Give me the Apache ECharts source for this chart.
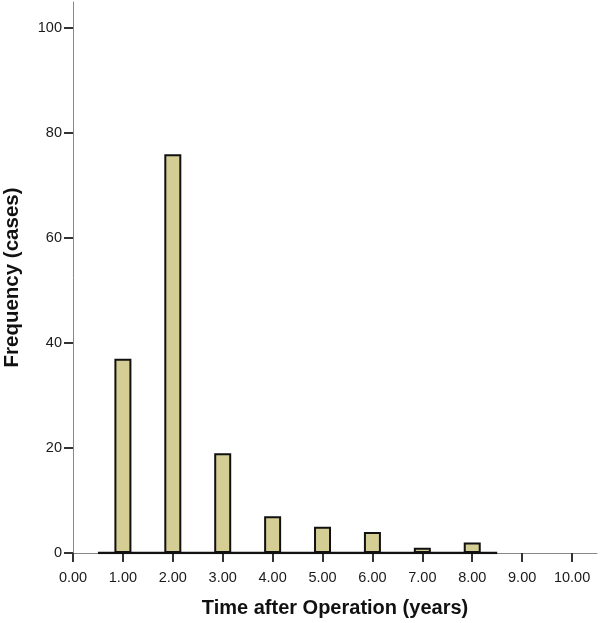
<!DOCTYPE html>
<html><head><meta charset="utf-8">
<script src="https://cdn.jsdelivr.net/npm/echarts@6/dist/echarts.min.js"></script>
<style>html,body{margin:0;padding:0;background:#fff}#c{width:600px;height:623px}</style>
</head><body><div id="c"></div>
<script>
const categories = [1, 2, 3, 4, 5, 6, 7, 8];
const frequency = [37, 76, 19, 7, 5, 4, 1, 2];
const xTicks = [0,1,2,3,4,5,6,7,8,9,10];
const yTicks = [0,20,40,60,80,100];
const histRange = [0.5, 8.5];

const chart = echarts.init(document.getElementById('c'));
const font = 'Liberation Sans, Arial, sans-serif';
chart.setOption({
  animation: false,
  grid: {left: 73, right: 3, top: 2, bottom: 70, outerBoundsMode: 'none', containLabel: false},
  xAxis: {
    type: 'value', min: 0, max: 10.5, interval: 1,
    name: 'Time after Operation (years)', nameLocation: 'middle', nameGap: 45,
    nameTextStyle: {fontFamily: font, fontSize: 20, fontWeight: 'bold', color: '#111'},
    axisLine: {lineStyle: {color: '#888', width: 1}},
    axisTick: {show: true, length: 9, lineStyle: {color: '#333', width: 2}, customValues: xTicks},
    axisLabel: {fontFamily: font, fontSize: 14.5, color: '#1a1a1a', margin: 17, customValues: xTicks,
      formatter: v => v.toFixed(2)},
    splitLine: {show: false}
  },
  yAxis: {
    type: 'value', min: 0, max: 105, interval: 20,
    name: 'Frequency (cases)', nameLocation: 'middle', nameGap: 50,
    nameTextStyle: {fontFamily: font, fontSize: 20.5, fontWeight: 'bold', color: '#111'},
    axisLine: {show: true, lineStyle: {color: '#888', width: 1}},
    axisTick: {show: true, length: 9, lineStyle: {color: '#333', width: 2}, customValues: yTicks},
    axisLabel: {fontFamily: font, fontSize: 14.5, color: '#1a1a1a', margin: 11, customValues: yTicks},
    splitLine: {show: false}
  },
  series: [
    {
      type: 'line', data: histRange.map(x => [x, 0]), symbol: 'none', z: 3,
      lineStyle: {color: '#111', width: 2.5}
    },
    {
      type: 'bar', barWidth: 17, z: 4,
      data: categories.map((c, i) => [c, frequency[i]]),
      itemStyle: {color: '#d4cd94', borderColor: '#111', borderWidth: 2}
    }
  ]
});
</script></body></html>
